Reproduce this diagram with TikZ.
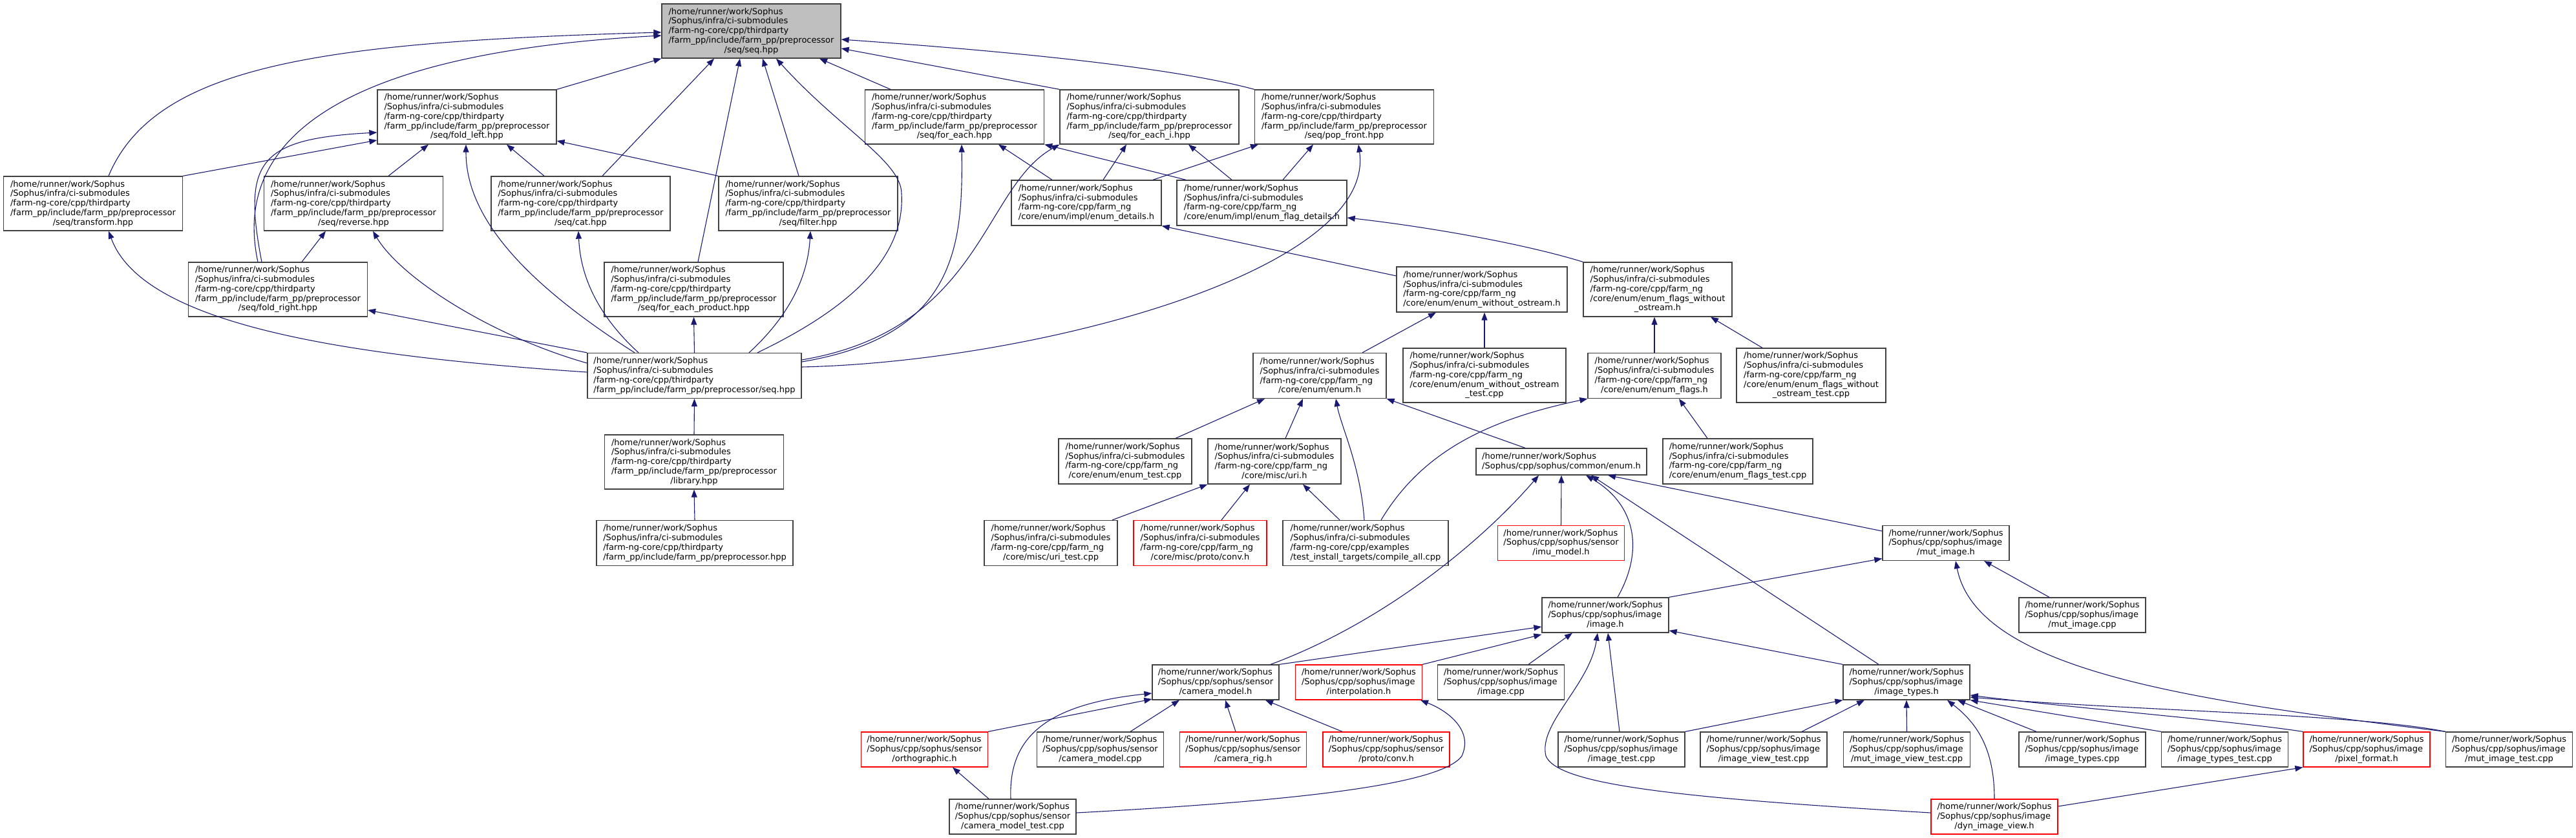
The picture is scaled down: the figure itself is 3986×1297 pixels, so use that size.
\documentclass[tikz,border=0pt]{standalone}
\usepackage{fontspec}
\setmainfont{DejaVu Sans}
\usetikzlibrary{arrows.meta}

\definecolor{edgeblue}{RGB}{25,25,112}
\newcommand\nodefont{\fontsize{13}{14.75}\selectfont}
% label: left lines, last line centred
\newcommand\lbl[2]{\vbox{\halign{##\hfil\cr#1\cr\hfil#2\cr}}}
\newcommand\pphead{/home/runner/work/Sophus\cr/Sophus/infra/ci-submodules\cr/farm-ng-core/cpp/thirdparty\cr/farm\_pp/include/farm\_pp/preprocessor}
\newcommand\nghead{/home/runner/work/Sophus\cr/Sophus/infra/ci-submodules\cr/farm-ng-core/cpp/farm\_ng}
\newcommand\sohead[1]{/home/runner/work/Sophus\cr/Sophus/cpp/sophus/#1}

\begin{document}
\begin{tikzpicture}[x=1pt,y=-1pt,>={Triangle[length=12pt,width=9pt]},
    filebox/.style={draw=black!75, line width=1.3pt, fill=white, inner sep=0pt, font=\nodefont},
    rootbox/.style={filebox, fill=black!25},
    redbox/.style={filebox, draw=red},
    seqsize/.style={minimum width=277, minimum height=84},
    ngsize/.style={minimum height=70},
    sosize/.style={minimum width=196, minimum height=54},
    dep/.style={->, draw=edgeblue, line width=1.1pt}]

    \useasboundingbox (0,0) rectangle (3986,1297);

    % seq headers
    \node[rootbox, seqsize] (seqA) at (1162.5,48) {\lbl{\pphead}{/seq/seq.hpp}};
    \node[filebox, seqsize] (foldl) at (722.5,181) {\lbl{\pphead}{/seq/fold\_left.hpp}};
    \node[filebox, seqsize] (foreach) at (1477,181) {\lbl{\pphead}{/seq/for\_each.hpp}};
    \node[filebox, seqsize] (foreachi) at (1778.5,181) {\lbl{\pphead}{/seq/for\_each\_i.hpp}};
    \node[filebox, seqsize] (popfront) at (2080,181) {\lbl{\pphead}{/seq/pop\_front.hpp}};
    \node[filebox, seqsize] (transform) at (144,315) {\lbl{\pphead}{/seq/transform.hpp}};
    \node[filebox, seqsize] (reverse) at (547,315) {\lbl{\pphead}{/seq/reverse.hpp}};
    \node[filebox, seqsize] (cat) at (898.5,315) {\lbl{\pphead}{/seq/cat.hpp}};
    \node[filebox, seqsize] (filter) at (1250.5,315) {\lbl{\pphead}{/seq/filter.hpp}};
    \node[filebox, seqsize] (foldr) at (430,448) {\lbl{\pphead}{/seq/fold\_right.hpp}};
    \node[filebox, seqsize] (foreachprod) at (1073.5,448) {\lbl{\pphead}{/seq/for\_each\_product.hpp}};
    \node[filebox, ngsize, minimum width=331] (seqB) at (1074.5,581.5)
        {\lbl{/home/runner/work/Sophus\cr/Sophus/infra/ci-submodules\cr/farm-ng-core/cpp/thirdparty}{/farm\_pp/include/farm\_pp/preprocessor/seq.hpp}};
    \node[filebox, seqsize] (library) at (1074,715) {\lbl{\pphead}{/library.hpp}};
    \node[filebox, ngsize, minimum width=304] (pp) at (1075,840.5)
        {\lbl{/home/runner/work/Sophus\cr/Sophus/infra/ci-submodules\cr/farm-ng-core/cpp/thirdparty}{/farm\_pp/include/farm\_pp/preprocessor.hpp}};

    % farm_ng enum
    \node[filebox, ngsize, minimum width=232] (enumdet) at (1681,314) {\lbl{\nghead}{/core/enum/impl/enum\_details.h}};
    \node[filebox, ngsize, minimum width=263] (flagdet) at (1952.5,314) {\lbl{\nghead}{/core/enum/impl/enum\_flag\_details.h}};
    \node[filebox, ngsize, minimum width=264] (enumwo) at (2293,448) {\lbl{\nghead}{/core/enum/enum\_without\_ostream.h}};
    \node[filebox, seqsize, minimum width=230] (flagswo) at (2565,448) {\lbl{\nghead\cr/core/enum/enum\_flags\_without}{\_ostream.h}};
    \node[filebox, ngsize, minimum width=206] (enumh) at (2042,581.5) {\lbl{\nghead}{/core/enum/enum.h}};
    \node[filebox, seqsize, minimum width=252] (enumwotest) at (2297,581) {\lbl{\nghead\cr/core/enum/enum\_without\_ostream}{\_test.cpp}};
    \node[filebox, ngsize, minimum width=206] (flagsh) at (2560,581.5) {\lbl{\nghead}{/core/enum/enum\_flags.h}};
    \node[filebox, seqsize, minimum width=231] (flagswotest) at (2802.5,581) {\lbl{\nghead\cr/core/enum/enum\_flags\_without}{\_ostream\_test.cpp}};
    \node[filebox, ngsize, minimum width=206] (enumtest) at (1741,714) {\lbl{\nghead}{/core/enum/enum\_test.cpp}};
    \node[filebox, ngsize, minimum width=206] (urih) at (1972,714) {\lbl{\nghead}{/core/misc/uri.h}};
    \node[filebox, ngsize, minimum width=232] (flagstest) at (2689,714) {\lbl{\nghead}{/core/enum/enum\_flags\_test.cpp}};
    \node[filebox, ngsize, minimum width=206] (uritest) at (1626,840.5) {\lbl{\nghead}{/core/misc/uri\_test.cpp}};
    \node[redbox, ngsize, minimum width=206] (protoconv) at (1857,840.5) {\lbl{\nghead}{/core/misc/proto/conv.h}};
    \node[filebox, ngsize, minimum width=256] (compileall) at (2113,840.5)
        {\lbl{/home/runner/work/Sophus\cr/Sophus/infra/ci-submodules\cr/farm-ng-core/cpp/examples}{/test\_install\_targets/compile\_all.cpp}};

    % sophus
    \node[filebox, minimum width=264, minimum height=41] (commonenum) at (2416,714.5)
        {\lbl{/home/runner/work/Sophus}{/Sophus/cpp/sophus/common/enum.h}};
    \node[redbox, sosize] (imu) at (2415.5,840.5) {\lbl{\sohead{sensor}}{/imu\_model.h}};
    \node[filebox, sosize] (mutimage) at (3011,840.5) {\lbl{\sohead{image}}{/mut\_image.h}};
    \node[filebox, sosize] (image) at (2484,952) {\lbl{\sohead{image}}{/image.h}};
    \node[filebox, sosize] (mutimagecpp) at (3222,952) {\lbl{\sohead{image}}{/mut\_image.cpp}};
    \node[filebox, sosize] (cammodel) at (1881,1056) {\lbl{\sohead{sensor}}{/camera\_model.h}};
    \node[redbox, sosize] (interp) at (2102.5,1056) {\lbl{\sohead{image}}{/interpolation.h}};
    \node[filebox, sosize] (imagecpp) at (2322.5,1056) {\lbl{\sohead{image}}{/image.cpp}};
    \node[filebox, sosize] (imagetypes) at (2950,1056) {\lbl{\sohead{image}}{/image\_types.h}};
    \node[redbox, sosize] (ortho) at (1430.5,1160) {\lbl{\sohead{sensor}}{/orthographic.h}};
    \node[filebox, sosize] (cammodelcpp) at (1702.5,1160) {\lbl{\sohead{sensor}}{/camera\_model.cpp}};
    \node[redbox, sosize] (camrig) at (1923.5,1160) {\lbl{\sohead{sensor}}{/camera\_rig.h}};
    \node[redbox, sosize] (sensorconv) at (2145,1160) {\lbl{\sohead{sensor}}{/proto/conv.h}};
    \node[filebox, sosize] (imagetest) at (2509,1160) {\lbl{\sohead{image}}{/image\_test.cpp}};
    \node[filebox, sosize] (imageviewtest) at (2729,1160) {\lbl{\sohead{image}}{/image\_view\_test.cpp}};
    \node[filebox, sosize] (mutviewtest) at (2950.5,1160) {\lbl{\sohead{image}}{/mut\_image\_view\_test.cpp}};
    \node[filebox, sosize] (imagetypescpp) at (3222,1160) {\lbl{\sohead{image}}{/image\_types.cpp}};
    \node[filebox, sosize] (imagetypestest) at (3442.5,1160) {\lbl{\sohead{image}}{/image\_types\_test.cpp}};
    \node[redbox, sosize] (pixelformat) at (3662,1160) {\lbl{\sohead{image}}{/pixel\_format.h}};
    \node[filebox, sosize] (mutimagetest) at (3882.5,1160) {\lbl{\sohead{image}}{/mut\_image\_test.cpp}};
    \node[filebox, sosize] (cammodeltest) at (1567,1264) {\lbl{\sohead{sensor}}{/camera\_model\_test.cpp}};
    \node[redbox, sosize] (dynview) at (3086,1264) {\lbl{\sohead{image}}{/dyn\_image\_view.h}};

    % into seq/seq.hpp
    \draw[dep] ([xshift=24]transform.north) .. controls (240,100) and (500,65) .. ([yshift=-2]seqA.west);
    \draw[dep] ([xshift=-31]foldr.north) .. controls (355,200) and (560,80) .. ([yshift=-7]seqA.west);
    \draw[dep] (foldl.north east) -- (seqA.south west);
    \draw[dep] ([xshift=33.5]cat.north) -- ([xshift=-57.5]seqA.south);
    \draw[dep] ([xshift=6.5]foreachprod.north) -- ([xshift=-17.5]seqA.south);
    \draw[dep] ([xshift=-14.5]filter.north) -- ([xshift=17.5]seqA.south);
    \draw[dep] ([xshift=97.5]seqB.north) .. controls (1330,470) and (1400,390) .. (1395,300)
        .. controls (1395,250) and (1300,200) .. ([xshift=38.5]seqA.south);
    \draw[dep] ([xshift=-99]foreach.north) -- ([xshift=105.5]seqA.south);
    \draw[dep] (foreachi.north west) -- ([yshift=-27]seqA.east);
    \draw[dep] (popfront.north west) .. controls (1800,100) and (1500,75) .. ([yshift=-13]seqA.east);

    % into fold_left.hpp
    \draw[dep] (transform.north east) -- ([yshift=-36]foldl.west);
    \draw[dep] ([xshift=-25]foldr.north) .. controls (375,250) and (400,215) .. ([yshift=-24]foldl.west);
    \draw[dep] ([xshift=54]reverse.north) -- ([xshift=-59.5]foldl.south);
    \draw[dep] ([xshift=-92.5]seqB.north) .. controls (800,430) and (721,330) .. ([xshift=-1.5]foldl.south);
    \draw[dep] ([xshift=-56.5]cat.north) -- ([xshift=61.5]foldl.south);
    \draw[dep] (filter.north west) -- ([yshift=-37]foldl.east);

    % preprocessor/seq.hpp
    \draw[dep] ([xshift=37]foldr.north) -- ([xshift=-43]reverse.south);
    \draw[dep] ([yshift=19.5]seqB.west) .. controls (760,520) and (620,430) .. ([xshift=30]reverse.south);
    \draw[dep] ([yshift=5.5]seqB.west) .. controls (520,550) and (220,500) .. ([xshift=24]transform.south);
    \draw[dep] (seqB.north west) -- ([yshift=-32]foldr.east);
    \draw[dep] ([xshift=-86.5]seqB.north) .. controls (905,470) and (897,400) .. ([xshift=-3.5]cat.south);
    \draw[dep] (seqB.north) -- (foreachprod.south);
    \draw[dep] ([xshift=84.5]seqB.north) .. controls (1220,490) and (1250,430) .. ([xshift=3.5]filter.south);
    \draw[dep] ([yshift=21.5]seqB.east) .. controls (1480,520) and (1490,380) .. ([xshift=11]foreach.south);
    \draw[dep] ([yshift=24.5]seqB.east) .. controls (1520,510) and (1520,290) .. (foreachi.south west);
    \draw[dep] ([yshift=13.5]seqB.east) .. controls (1600,560) and (2130,420) .. ([xshift=22]popfront.south);
    \draw[dep] (library.north) -- (seqB.south);
    \draw[dep] (pp.north) -- (library.south);

    % enum details
    \draw[dep] ([xshift=-53]enumdet.north) -- ([xshift=68]foreach.south);
    \draw[dep] ([xshift=-117.5]flagdet.north) -- (foreach.south east);
    \draw[dep] ([xshift=26]enumdet.north) -- ([xshift=-35.5]foreachi.south);
    \draw[dep] ([xshift=-46.5]flagdet.north) -- ([xshift=60.5]foreachi.south);
    \draw[dep] ([xshift=103]enumdet.north) -- ([xshift=-133]popfront.south);
    \draw[dep] ([xshift=32.5]flagdet.north) -- ([xshift=-48]popfront.south);
    \draw[dep] ([yshift=21]enumwo.west) -- (enumdet.south east);
    \draw[dep] (flagswo.north west) .. controls (2350,375) and (2200,350) .. ([yshift=-23]flagdet.east);

    % enum.h, enum_flags.h, uri.h
    \draw[dep] ([xshift=66]enumh.north) -- ([xshift=-71]enumwo.south);
    \draw[dep] (enumwotest.north) -- ([xshift=4]enumwo.south);
    \draw[dep] (flagsh.north) -- ([xshift=-5]flagswo.south);
    \draw[dep] ([xshift=-75.5]flagswotest.north) -- ([xshift=82]flagswo.south);
    \draw[dep] ([xshift=78]enumtest.north) -- ([xshift=-85]enumh.south);
    \draw[dep] ([xshift=17]urih.north) -- ([xshift=-26]enumh.south);
    \draw[dep] ([xshift=-2]compileall.north) .. controls (2105,720) and (2075,660) .. ([xshift=25]enumh.south);
    \draw[dep] ([xshift=-56]commonenum.north) -- (enumh.south east);
    \draw[dep] ([xshift=24]compileall.north) .. controls (2200,700) and (2300,650) .. (flagsh.south west);
    \draw[dep] ([xshift=-47]flagstest.north) -- ([xshift=38]flagsh.south);
    \draw[dep] ([xshift=95]uritest.north) -- (urih.south west);
    \draw[dep] ([xshift=33]protoconv.north) -- ([xshift=-38]urih.south);
    \draw[dep] ([xshift=-40]compileall.north) -- ([xshift=44]urih.south);

    % common/enum.h
    \draw[dep] ([xshift=85]cammodel.north) .. controls (2150,960) and (2300,830) .. ([xshift=-35]commonenum.south);
    \draw[dep] (imu.north) -- (commonenum.south);
    \draw[dep] ([xshift=19]image.north) .. controls (2545,850) and (2530,780) .. ([xshift=38]commonenum.south);
    \draw[dep] ([xshift=-43]imagetypes.north) -- ([xshift=46]commonenum.south);
    \draw[dep] ([yshift=18.5]mutimage.west) -- ([xshift=72]commonenum.south);

    % mut_image.h
    \draw[dep] (image.north east) -- ([yshift=-24]mutimage.west);
    \draw[dep] (mutimagetest.north west) .. controls (3400,1085) and (3060,1040) .. ([xshift=15]mutimage.south);
    \draw[dep] ([xshift=-51]mutimagecpp.north) -- ([xshift=59]mutimage.south);

    % image.h
    \draw[dep] (cammodel.north east) -- ([yshift=-18]image.west);
    \draw[dep] (interp.north east) -- ([yshift=-30]image.west);
    \draw[dep] ([xshift=42.5]imagecpp.north) -- ([xshift=-51]image.south);
    \draw[dep] ([yshift=6]dynview.west) .. controls (2600,1235) and (2410,1215) .. (2392,1170)
        .. controls (2380,1120) and (2460,1060) .. ([xshift=-12]image.south);
    \draw[dep] ([xshift=-3]imagetest.north) -- ([xshift=4]image.south);
    \draw[dep] (imagetypes.north west) -- ([yshift=-24]image.east);

    % image_types.h
    \draw[dep] (imagetest.north east) -- (imagetypes.south west);
    \draw[dep] ([xshift=59]imageviewtest.north) -- ([xshift=-65]imagetypes.south);
    \draw[dep] (mutviewtest.north) -- (imagetypes.south);
    \draw[dep] (dynview.north) .. controls (3086,1160) and (3060,1120) .. ([xshift=63]imagetypes.south);
    \draw[dep] ([xshift=-71]imagetypescpp.north) -- ([xshift=79]imagetypes.south);
    \draw[dep] (imagetypestest.north west) -- (imagetypes.south east);
    \draw[dep] (pixelformat.north west) .. controls (3450,1115) and (3200,1095) .. ([yshift=-20]imagetypes.east);
    \draw[dep] (mutimagetest.north west) .. controls (3650,1105) and (3300,1100) .. ([yshift=-23]imagetypes.east);
    \draw[dep] ([yshift=16]dynview.east) -- (pixelformat.south west);

    % camera_model.h
    \draw[dep] ([xshift=-11.5]camrig.north) -- ([xshift=15]cammodel.south);
    \draw[dep] ([xshift=46.5]cammodelcpp.north) -- ([xshift=-56]cammodel.south);
    \draw[dep] ([xshift=-68]sensorconv.north) -- ([xshift=77]cammodel.south);
    \draw[dep] ([xshift=-3]cammodeltest.north) .. controls (1560,1140) and (1620,1090) .. ([yshift=-17]cammodel.west);
    \draw[dep] (ortho.north east) -- ([yshift=-26]cammodel.west);
    \draw[dep] ([yshift=6]cammodeltest.east) .. controls (2000,1240) and (2230,1215) .. (2262,1170)
        .. controls (2280,1130) and (2240,1100) .. ([xshift=95.5]interp.south);
    \draw[dep] ([xshift=-37]cammodeltest.north) -- ([xshift=43.5]ortho.south);

\end{tikzpicture}
\end{document}
